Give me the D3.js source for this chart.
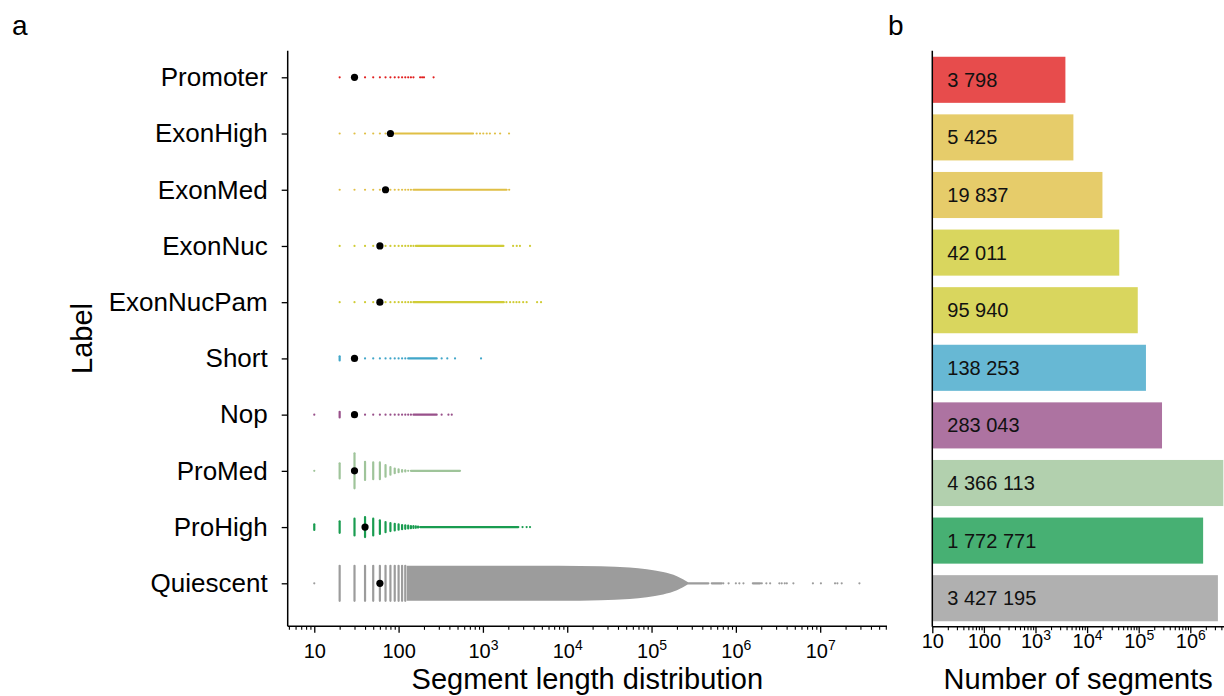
<!DOCTYPE html>
<html>
<head>
<meta charset="utf-8">
<script src="https://cdn.jsdelivr.net/npm/d3@7"></script>
<style>
  body { margin: 0; background: #fff; }
  svg { font-family: "Liberation Sans", Arial, sans-serif; }
</style>
</head>
<body>
<svg id="chart" width="1224" height="696"></svg>
<script>
const labels = ['Promoter', 'ExonHigh', 'ExonMed', 'ExonNuc', 'ExonNucPam', 'Short', 'Nop', 'ProMed', 'ProHigh', 'Quiescent'];
const segmentCounts = [3798, 5425, 19837, 42011, 95940, 138253, 283043, 4366113, 1772771, 3427195];
const medianLengths = [30, 80, 70, 60, 60, 30, 30, 30, 40, 60];
const colors = ['#e11f1f', '#e0bf45', '#e0bf45', '#d0cc36', '#d0cc36', '#41a6c9', '#98508a', '#9fc49a', '#199c50', '#9c9c9c'];

// distinct segment lengths drawn one by one: [length, spread of the swarm, 0..1]
const sparseLengths = [
  [[20, 0], [30, 0], [40, 0], [50, 0], [60, 0], [70, 0], [80, 0], [90, 0], [100, 0], [110, 0], [120, 0], [130, 0], [140, 0], [150, 0], [180, 0], [190, 0], [200, 0], [260, 0]],
  [[20, 0], [30, 0], [40, 0], [50, 0], [60, 0], [70, 0], [80, 0], [843, 0], [924, 0], [1010, 0], [1110, 0], [1210, 0], [1390, 0], [1600, 0], [2040, 0]],
  [[20, 0], [30, 0], [40, 0], [50, 0], [60, 0], [70, 0], [80, 0], [90, 0], [100, 0], [110, 0], [120, 0], [130, 0], [140, 0], [2050, 0]],
  [[20, 0], [30, 0], [40, 0], [50, 0], [60, 0], [70, 0], [80, 0], [90, 0], [100, 0], [110, 0], [120, 0], [130, 0], [140, 0], [150, 0], [2280, 0], [2520, 0], [2750, 0], [3620, 0]],
  [[20, 0], [30, 0], [40, 0], [50, 0], [60, 0], [70, 0], [80, 0], [90, 0], [100, 0], [110, 0], [120, 0], [130, 0], [140, 0], [1900, 0], [2100, 0], [2300, 0], [2500, 0], [2700, 0], [3000, 0], [3300, 0], [4390, 0], [4890, 0]],
  [[20, 0.12], [30, 0], [40, 0], [50, 0], [60, 0], [70, 0], [80, 0], [90, 0], [100, 0], [110, 0], [120, 0], [324, 0], [378, 0], [467, 0], [950, 0]],
  [[10, 0], [20, 0.16], [30, 0], [40, 0], [50, 0], [60, 0], [70, 0], [80, 0], [90, 0], [100, 0], [110, 0], [120, 0], [130, 0], [140, 0], [324, 0], [390, 0], [427, 0]],
  [[10, 0], [20, 0.43], [30, 1], [40, 0.52], [50, 0.48], [60, 0.48], [70, 0.33], [80, 0.22], [90, 0.13], [100, 0.08], [110, 0.05], [120, 0.03], [130, 0]],
  [[10, 0.16], [20, 0.33], [30, 0.48], [40, 0.57], [50, 0.48], [60, 0.39], [70, 0.29], [80, 0.23], [90, 0.19], [100, 0.15], [110, 0.12], [120, 0.1], [130, 0.08], [140, 0.06], [150, 0.05], [160, 0.04], [170, 0.03], [2950, 0], [3300, 0], [3620, 0]],
  [[10, 0], [20, 1], [30, 1], [40, 1], [50, 1], [60, 1], [70, 1], [80, 1], [90, 1], [100, 1], [110, 1], [120, 1],
   [7.1e5, 0], [8.2e5, 0], [1.0e6, 0], [1.1e6, 0], [1.23e6, 0], [2.03e6, 0], [2.3e6, 0], [2.55e6, 0], [3.28e6, 0], [3.5e6, 0], [3.8e6, 0], [4.02e6, 0], [4.81e6, 0], [8.2e6, 0], [1.02e7, 0], [1.5e7, 0], [1.6e7, 0], [1.8e7, 0], [2.92e7, 0]]
];

// length ranges where the points merge into a line
const denseRanges = [
  [],
  [[90, 764]],
  [[150, 1910]],
  [[160, 1750]],
  [[150, 1770]],
  [[130, 283]],
  [[150, 283]],
  [[140, 535]],
  [[180, 2630]],
  [[2.71e5, 4.72e5], [5.18e5, 6.8e5], [1.59e6, 1.94e6]]
];

// Quiescent: the swarm is full from 125 bp and narrows in the tail
const quiescentBand = [[125, 1], [8e3, 1], [2.5e4, 0.97], [5.5e4, 0.9], [8.8e4, 0.8], [1.37e5, 0.64], [2.0e5, 0.4], [2.36e5, 0.23], [2.71e5, 0.06]];

const lengthTicks = [10, 100, 1e3, 1e4, 1e5, 1e6, 1e7];
const countTicks = [10, 100, 1e3, 1e4, 1e5, 1e6];

const svg = d3.select('#chart');
const fmt = d3.formatLocale({ decimal: '.', thousands: ' ', grouping: [3], currency: ['', ''] }).format(',d');

// ---- panel a
const aLeft = 287.7, aRight = 887, aTop = 50.7, aBottom = 626.3;
const x = d3.scaleLog().domain([4.84, 6.2e7]).range([aLeft, aRight]);
const y = d3.scalePoint().domain(labels).range([77.3, 583.3]);
const spread = d3.scaleLinear().domain([0, 1]).range([0, 17.5]);

const marks = svg.append('g');

labels.forEach((label, i) => {
  const cy = y(label);
  const g = marks.append('g');

  if (label === 'Quiescent') {
    const band = d3.area()
      .curve(d3.curveMonotoneX)
      .x(d => x(d[0]))
      .y0(d => cy + spread(d[1]))
      .y1(d => cy - spread(d[1]));
    g.append('path')
      .datum(quiescentBand)
      .attr('d', band)
      .attr('fill', colors[i]);
  }

  g.selectAll('line.dense')
    .data(denseRanges[i])
    .join('line')
    .attr('class', 'dense')
    .attr('x1', d => x(d[0]))
    .attr('x2', d => x(d[1]))
    .attr('y1', cy)
    .attr('y2', cy)
    .attr('stroke', colors[i])
    .attr('stroke-width', 2.2)
    .attr('stroke-linecap', 'round');

  g.selectAll('rect.pt')
    .data(sparseLengths[i])
    .join('rect')
    .attr('class', 'pt')
    .attr('x', d => x(d[0]) - 1.1)
    .attr('y', d => cy - spread(d[1]) - 1.1)
    .attr('width', 2.2)
    .attr('height', d => 2 * spread(d[1]) + 2.2)
    .attr('rx', 1.1)
    .attr('fill', colors[i]);
});

marks.selectAll('circle.median')
  .data(labels)
  .join('circle')
  .attr('class', 'median')
  .attr('cx', (d, i) => x(medianLengths[i]))
  .attr('cy', d => y(d))
  .attr('r', 3.6)
  .attr('fill', '#000');

function powerLabel(sel) {
  sel.each(function (v) {
    const t = d3.select(this).text(null);
    if (v < 1000) { t.text(v); return; }
    t.append('tspan').text('10');
    t.append('tspan').attr('font-size', 14).attr('dy', -8).text(Math.round(Math.log10(v)));
  });
}

function bottomAxis(scale, majors, yPos, labelY) {
  const minor = scale.ticks().filter(v => !majors.includes(v) && Math.abs(Math.log10(v) % 1) > 1e-6);
  svg.append('g')
    .attr('transform', `translate(0,${yPos})`)
    .call(d3.axisBottom(scale).tickValues(minor).tickSize(3.5).tickFormat(''))
    .call(g => g.select('.domain').remove())
    .call(g => g.selectAll('line').attr('stroke-width', 1.1));
  const ax = svg.append('g')
    .attr('transform', `translate(0,${yPos})`)
    .call(d3.axisBottom(scale).tickValues(majors).tickSize(6.5))
    .call(g => g.select('.domain').remove())
    .call(g => g.selectAll('line').attr('stroke-width', 1.3));
  ax.selectAll('text')
    .attr('y', labelY)
    .attr('dy', 0)
    .attr('font-size', 20)
    .attr('font-family', '"Liberation Sans", Arial, sans-serif')
    .attr('fill', '#000')
    .call(powerLabel);
}

bottomAxis(x, lengthTicks, aBottom, 32);

const yAxis = svg.append('g')
  .attr('transform', `translate(${aLeft},0)`)
  .call(d3.axisLeft(y).tickSize(6).tickPadding(14))
  .call(g => g.select('.domain').remove())
  .call(g => g.selectAll('line').attr('stroke-width', 1.3));
yAxis.selectAll('text')
  .attr('font-size', 26)
  .attr('font-family', '"Liberation Sans", Arial, sans-serif')
  .attr('fill', '#000');

svg.append('line').attr('x1', aLeft).attr('x2', aLeft).attr('y1', aTop).attr('y2', aBottom).attr('stroke', '#000').attr('stroke-width', 1.5);
svg.append('line').attr('x1', aLeft).attr('x2', aRight).attr('y1', aBottom).attr('y2', aBottom).attr('stroke', '#000').attr('stroke-width', 1.5);

svg.append('text')
  .attr('x', (aLeft + aRight) / 2).attr('y', 689)
  .attr('text-anchor', 'middle').attr('font-size', 29)
  .text('Segment length distribution');

svg.append('text')
  .attr('transform', `translate(92,${(aTop + aBottom) / 2}) rotate(-90)`)
  .attr('text-anchor', 'middle').attr('font-size', 29)
  .text('Label');

svg.append('text').attr('x', 12).attr('y', 35).attr('font-size', 28).text('a');

// ---- panel b
const bLeft = 932.3, bRight = 1224, bTop = 50.7, bBottom = 626.7;
const xc = d3.scaleLog().domain([10, 4.5e6]).range([bLeft, bRight]);
const yb = d3.scaleBand().domain(labels).range([51, 627]).paddingInner(0.2).paddingOuter(0.1);

svg.append('g').selectAll('rect')
  .data(labels)
  .join('rect')
  .attr('x', xc(10))
  .attr('y', d => yb(d))
  .attr('width', (d, i) => xc(segmentCounts[i]) - xc(10))
  .attr('height', yb.bandwidth())
  .attr('fill', (d, i) => colors[i])
  .attr('fill-opacity', 0.8);

svg.append('g').selectAll('text')
  .data(labels)
  .join('text')
  .attr('x', xc(10) + 15)
  .attr('y', d => yb(d) + yb.bandwidth() / 2)
  .attr('dominant-baseline', 'central')
  .attr('font-size', 20)
  .attr('fill', '#111')
  .text((d, i) => fmt(segmentCounts[i]));

bottomAxis(xc, countTicks, bBottom, 21);

svg.append('line').attr('x1', bLeft).attr('x2', bLeft).attr('y1', bTop).attr('y2', bBottom).attr('stroke', '#000').attr('stroke-width', 1.5);
svg.append('line').attr('x1', bLeft).attr('x2', bRight).attr('y1', bBottom).attr('y2', bBottom).attr('stroke', '#000').attr('stroke-width', 1.5);

svg.append('text')
  .attr('x', (bLeft + bRight) / 2).attr('y', 689)
  .attr('text-anchor', 'middle').attr('font-size', 29)
  .text('Number of segments');

svg.append('text').attr('x', 888).attr('y', 35).attr('font-size', 28).text('b');
</script>
</body>
</html>
